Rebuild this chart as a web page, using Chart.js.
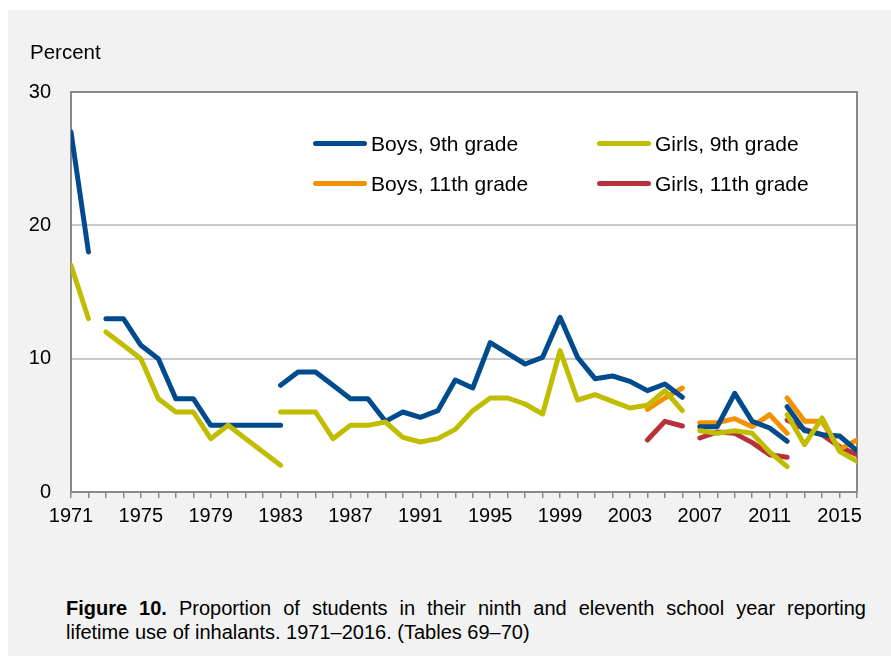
<!DOCTYPE html>
<html>
<head>
<meta charset="utf-8">
<script src="https://cdn.jsdelivr.net/npm/chart.js@4"></script>
<style>
  html, body { margin: 0; padding: 0; background: #ffffff; }
  body { width: 891px; height: 656px; position: relative; overflow: hidden; font-family: "Liberation Sans", Arial, sans-serif; }
  #panel { position: absolute; left: 8px; top: 10px; right: 0; bottom: 0; background: #f2f2f2; }
  #chart { position: absolute; left: 0; top: 0; }
  #ylabel { position: absolute; left: 30px; top: 40px; font-size: 20.5px; color: #000; }
  .leg { position: absolute; font-size: 21px; color: #000; line-height: 24px; white-space: nowrap; }
  .leg span { display: inline-block; width: 54px; height: 5px; border-radius: 3px; vertical-align: middle; margin-right: 4px; position: relative; top: -2px; }
  #caption { position: absolute; left: 66px; top: 596px; width: 800px; font-size: 20px; line-height: 24px; color: #000; }
  #caption .l1 { text-align: justify; text-align-last: justify; white-space: nowrap; }
</style>
</head>
<body>
<div id="panel"></div>
<canvas id="chart" width="891" height="560"></canvas>
<div id="ylabel">Percent</div>
<div class="leg" style="left:313px; top:132px;"><span style="background:#004b8d"></span>Boys, 9th grade</div>
<div class="leg" style="left:597px; top:132px;"><span style="background:#c0bd00"></span>Girls, 9th grade</div>
<div class="leg" style="left:313px; top:172px;"><span style="background:#f39200"></span>Boys, 11th grade</div>
<div class="leg" style="left:597px; top:172px;"><span style="background:#b7303a"></span>Girls, 11th grade</div>
<div id="caption"><div class="l1"><b>Figure 10.</b> Proportion of students in their ninth and eleventh school year reporting</div><div>lifetime use of inhalants. 1971–2016. (Tables 69–70)</div></div>
<script>
// every survey year on the axis, labels every 4th year
const years = [1971, 1972, 1973, 1974, 1975, 1976, 1977, 1978, 1979, 1980, 1981, 1982, 1983, 1984, 1985,
  1986, 1987, 1988, 1989, 1990, 1991, 1992, 1993, 1994, 1995, 1996, 1997, 1998, 1999, 2000, 2001,
  2002, 2003, 2004, 2005, 2006, 2007, 2008, 2009, 2010, 2011, 2012, 2013, 2014, 2015, 2016];
const tickLabels = [1971, 1975, 1979, 1983, 1987, 1991, 1995, 1999, 2003, 2007, 2011, 2015];
const yTicks = [0, 10, 20, 30];

// each series is split into segments: [first year, values...]
const boys9th = [
  [1971, [27, 18]],
  [1973, [13, 13, 11, 10, 7, 7, 5, 5, 5, 5, 5]],
  [1983, [8, 9, 9, 8, 7, 7, 5.3, 6, 5.6, 6.1, 8.4, 7.8, 11.2, 10.4, 9.6, 10.1, 13.1, 10.1, 8.5, 8.7, 8.3, 7.6, 8.1, 7.1]],
  [2007, [4.9, 4.9, 7.4, 5.3, 4.8, 3.8]],
  [2012, [6.4, 4.6, 4.3, 4.2, 3.1]]
];
const girls9th = [
  [1971, [17, 13]],
  [1973, [12, 11, 10, 7, 6, 6, 4, 5, 4, 3, 2]],
  [1983, [6, 6, 6, 4, 5, 5, 5.25, 4.1, 3.75, 4, 4.7, 6.1, 7.05, 7.05, 6.6, 5.85, 10.6, 6.9, 7.3, 6.8, 6.3, 6.5, 7.6, 6.1]],
  [2007, [4.6, 4.4, 4.6, 4.4, 3.0, 1.9]],
  [2012, [5.8, 3.55, 5.55, 3.05, 2.3]]
];
const boys11th = [
  [2004, [6.2, 7.05, 7.8]],
  [2007, [5.2, 5.2, 5.5, 4.9, 5.8, 4.4]],
  [2012, [7.05, 5.3, 5.3, 3.2, 3.9]]
];
const girls11th = [
  [2004, [3.9, 5.3, 4.95]],
  [2007, [4.05, 4.5, 4.4, 3.7, 2.8, 2.6]],
  [2012, [5.4, 4.7, 4.3, 3.4, 2.8]]
];

// turn segments into {x,y} points with a null between segments
function toPoints(segments) {
  const pts = [];
  segments.forEach((seg, i) => {
    if (i > 0) pts.push({ x: seg[0], y: null });
    seg[1].forEach((v, k) => pts.push({ x: seg[0] + k, y: v }));
  });
  return pts;
}

function lineSet(label, segments, color) {
  return {
    label: label,
    data: toPoints(segments),
    borderColor: color,
    backgroundColor: color,
    borderWidth: 5,
    borderCapStyle: 'round',
    borderJoinStyle: 'round',
    pointRadius: 0,
    tension: 0,
    spanGaps: false
  };
}

// white plot area with grey frame
const plotFrame = {
  id: 'plotFrame',
  beforeDraw(chart) {
    const a = chart.chartArea, ctx = chart.ctx;
    ctx.save();
    ctx.fillStyle = '#ffffff';
    ctx.fillRect(a.left, a.top, a.right - a.left, a.bottom - a.top);
    ctx.restore();
  },
  beforeDatasetsDraw(chart) {
    const a = chart.chartArea, ctx = chart.ctx;
    ctx.save();
    ctx.strokeStyle = '#898989';
    ctx.lineWidth = 2;
    ctx.strokeRect(a.left, a.top, a.right - a.left, a.bottom - a.top);
    ctx.restore();
  }
};

const ctx = document.getElementById('chart').getContext('2d');
new Chart(ctx, {
  type: 'line',
  data: {
    datasets: [
      lineSet('Girls, 9th grade', girls9th, '#c0bd00'),
      lineSet('Boys, 9th grade', boys9th, '#004b8d'),
      lineSet('Boys, 11th grade', boys11th, '#f39200'),
      lineSet('Girls, 11th grade', girls11th, '#b7303a')
    ]
  },
  options: {
    responsive: false,
    animation: false,
    devicePixelRatio: 1,
    layout: { padding: { top: 92, right: 34, left: 0, bottom: 0 } },
    plugins: {
      legend: { display: false },
      tooltip: { enabled: false }
    },
    scales: {
      x: {
        type: 'linear',
        min: 1971,
        max: 2016,
        afterBuildTicks: scale => { scale.ticks = years.map(v => ({ value: v })); },
        afterFit: scale => { scale.height = 68; },
        grid: { drawOnChartArea: false, drawTicks: true, tickLength: 6, color: '#898989', lineWidth: 1.5 },
        border: { color: '#898989', width: 2 },
        ticks: {
          autoSkip: false,
          maxRotation: 0,
          padding: 6,
          color: '#000',
          font: { family: '"Liberation Sans", Arial, sans-serif', size: 20 },
          callback: v => tickLabels.includes(v) ? String(v) : ''
        }
      },
      y: {
        min: 0,
        max: 30,
        afterBuildTicks: scale => { scale.ticks = yTicks.map(v => ({ value: v })); },
        afterFit: scale => { scale.width = 71; },
        grid: { drawTicks: false, color: '#c8c8c8', lineWidth: 2 },
        border: { color: '#898989', width: 2 },
        ticks: {
          padding: 20,
          color: '#000',
          font: { family: '"Liberation Sans", Arial, sans-serif', size: 20 }
        }
      }
    }
  },
  plugins: [plotFrame]
});
</script>
</body>
</html>
